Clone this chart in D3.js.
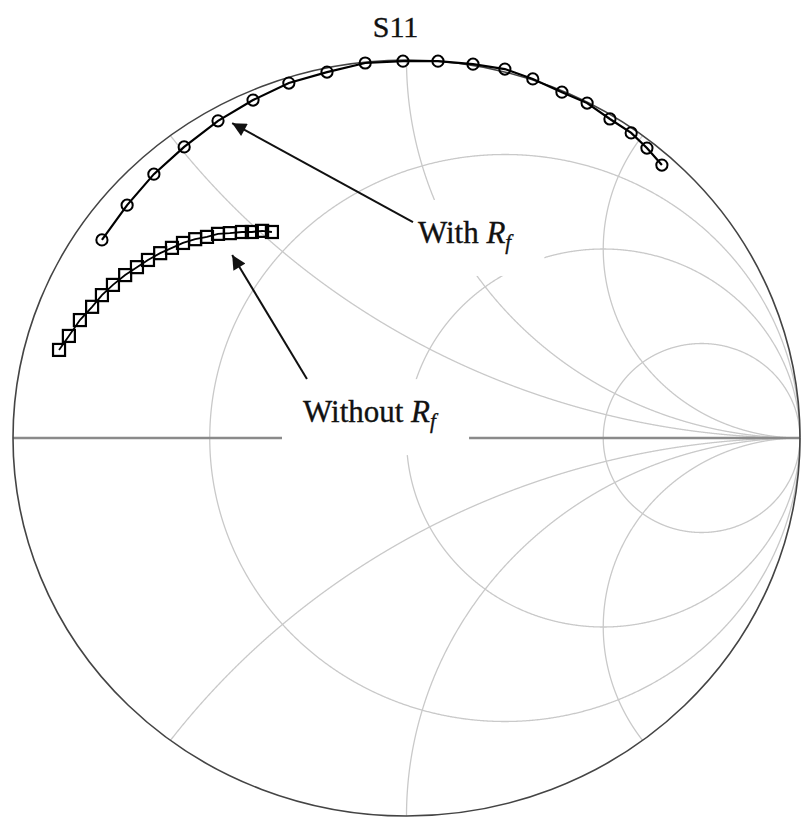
<!DOCTYPE html>
<html>
<head>
<meta charset="utf-8">
<script src="https://cdn.jsdelivr.net/npm/d3@7"></script>
<style>
  html, body { margin: 0; padding: 0; background: #fff; }
  svg { display: block; }
  text { font-family: "Liberation Serif", "Times New Roman", serif; fill: #111; stroke: #111; stroke-width: 0.35; }
</style>
</head>
<body>
<svg id="chart" width="802" height="817"></svg>
<script>
// Reflection coefficient S11 (real / imaginary parts), one point per frequency step
const withRfRe = [-0.774, -0.710, -0.642, -0.565, -0.479, -0.390, -0.299, -0.202, -0.105, -0.009,
                  0.080, 0.169, 0.250, 0.321, 0.395, 0.459, 0.517, 0.571, 0.611, 0.649];
const withRfIm = [0.524, 0.616, 0.698, 0.770, 0.839, 0.894, 0.939, 0.968, 0.992, 0.997,
                  0.997, 0.989, 0.976, 0.950, 0.915, 0.886, 0.844, 0.807, 0.767, 0.722];

const withoutRfRe = [-0.883, -0.858, -0.830, -0.799, -0.774, -0.746, -0.715, -0.685, -0.657, -0.626,
                     -0.596, -0.568, -0.537, -0.507, -0.479, -0.449, -0.418, -0.393, -0.367, -0.342];
const withoutRfIm = [0.233, 0.270, 0.312, 0.347, 0.378, 0.405, 0.431, 0.452, 0.471, 0.489,
                     0.503, 0.516, 0.526, 0.532, 0.540, 0.542, 0.545, 0.545, 0.548, 0.545];

// Smith chart grid values
const resistanceValues = [1 / 3, 1, 3];
const reactanceValues = [0.5, 1, 2];

const titleText = "S11";
const labelWith = "With ";
const labelWithout = "Without ";
const labelSymbol = "R";
const labelSub = "f";

// Annotation arrows in reflection-coefficient coordinates: [tail, tip]
const arrowWith = [[0.0165, 0.571], [-0.443, 0.833]];
const arrowWithout = [[-0.253, 0.156], [-0.443, 0.484]];
const labelWithPos = [0.029, 0.516];
const labelWithoutPos = [-0.263, 0.042];

const svg = d3.select("#chart");
const x = d3.scaleLinear().domain([-1, 1]).range([13, 800]);
const y = d3.scaleLinear().domain([-1, 1]).range([816, 60]);

const line = d3.line().x(d => x(d[0])).y(d => y(d[1]));

// z -> gamma = (z - 1) / (z + 1)
function gamma(r, xi) {
  const den = (r + 1) * (r + 1) + xi * xi;
  return [(r * r + xi * xi - 1) / den, (2 * xi) / den];
}

const grid = svg.append("g").attr("fill", "none").attr("stroke", "#c9c9c9").attr("stroke-width", 1.3);

// constant-resistance circles
resistanceValues.forEach(r => {
  const pts = d3.range(-0.4999, 0.49995, 0.0005).map(t => gamma(r, Math.tan(Math.PI * t)));
  grid.append("path").attr("d", line(pts));
});

// constant-reactance arcs (upper and lower halves)
reactanceValues.forEach(xv => {
  [xv, -xv].forEach(xx => {
    const pts = d3.range(0, 0.9995, 0.0005).map(t => gamma(t / (1 - t), xx));
    grid.append("path").attr("d", line(pts));
  });
});

// real axis
svg.append("line")
  .attr("x1", x(-1)).attr("x2", x(1))
  .attr("y1", y(0)).attr("y2", y(0))
  .attr("stroke", "#8a8a8a").attr("stroke-width", 2.6);

// outer boundary |gamma| = 1
svg.append("ellipse")
  .attr("cx", x(0)).attr("cy", y(0))
  .attr("rx", (x(1) - x(-1)) / 2).attr("ry", (y(-1) - y(1)) / 2)
  .attr("fill", "none").attr("stroke", "#444").attr("stroke-width", 1.6);

// title
svg.append("text")
  .attr("x", x(0) - 11).attr("y", y(1) - 23)
  .attr("text-anchor", "middle")
  .attr("font-size", 30)
  .text(titleText);

// labels with white backgrounds
function addLabel(pos, prefix) {
  const g = svg.append("g");
  const rect = g.append("rect").attr("fill", "#fff");
  const t = g.append("text")
    .attr("x", x(pos[0])).attr("y", y(pos[1]))
    .attr("font-size", 31);
  t.append("tspan").text(prefix);
  t.append("tspan").attr("font-style", "italic").text(labelSymbol);
  t.append("tspan").attr("font-style", "italic").attr("font-size", 21).attr("dy", 6).text(labelSub);
  const bb = t.node().getBBox();
  rect.attr("x", bb.x - 21).attr("width", bb.width + 51)
      .attr("y", y(pos[1]) - 43).attr("height", 76);
}
addLabel(labelWithPos, labelWith);
addLabel(labelWithoutPos, labelWithout);

// arrows
const defs = svg.append("defs");
defs.append("marker")
  .attr("id", "head")
  .attr("viewBox", "0 0 10 10")
  .attr("refX", 10).attr("refY", 5)
  .attr("markerWidth", 8.5).attr("markerHeight", 7)
  .attr("markerUnits", "strokeWidth")
  .attr("orient", "auto")
  .append("path").attr("d", "M0,0 L10,5 L0,10 Z").attr("fill", "#111");

[arrowWith, arrowWithout].forEach(a => {
  svg.append("line")
    .attr("x1", x(a[0][0])).attr("y1", y(a[0][1]))
    .attr("x2", x(a[1][0])).attr("y2", y(a[1][1]))
    .attr("stroke", "#111").attr("stroke-width", 2)
    .attr("marker-end", "url(#head)");
});

// data series
const withPts = withRfRe.map((v, i) => [v, withRfIm[i]]);
const withoutPts = withoutRfRe.map((v, i) => [v, withoutRfIm[i]]);

svg.append("path").attr("d", line(withPts))
  .attr("fill", "none").attr("stroke", "#000").attr("stroke-width", 2.2);
svg.append("g").selectAll("circle").data(withPts).join("circle")
  .attr("cx", d => x(d[0])).attr("cy", d => y(d[1])).attr("r", 5.6)
  .attr("fill", "none").attr("stroke", "#000").attr("stroke-width", 2);

svg.append("path").attr("d", line(withoutPts))
  .attr("fill", "none").attr("stroke", "#000").attr("stroke-width", 1.8);
svg.append("g").selectAll("rect").data(withoutPts).join("rect")
  .attr("x", d => x(d[0]) - 6).attr("y", d => y(d[1]) - 6)
  .attr("width", 12).attr("height", 12)
  .attr("fill", "none").attr("stroke", "#000").attr("stroke-width", 2.2);
</script>
</body>
</html>
